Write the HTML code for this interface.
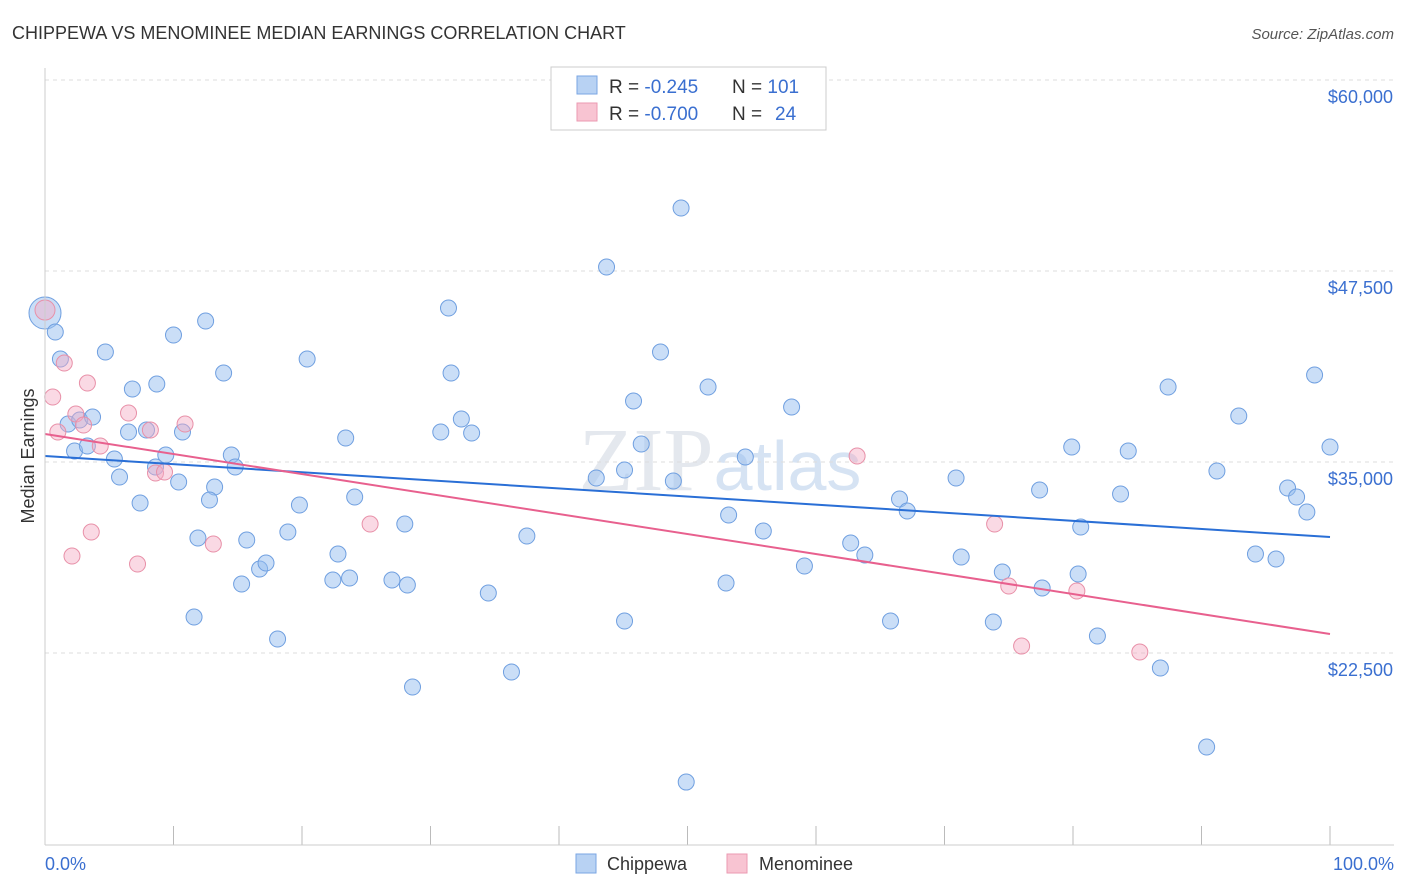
<!DOCTYPE html>
<html><head><meta charset="utf-8"><style>
body{margin:0;background:#fff;font-family:"Liberation Sans",sans-serif}
svg{display:block}
</style></head><body>
<svg width="1406" height="892" id="c">
<text x="12" y="39" font-size="18" fill="#333">CHIPPEWA VS MENOMINEE MEDIAN EARNINGS CORRELATION CHART</text>
<text x="1394" y="39" font-size="15" fill="#555" text-anchor="end" font-style="italic">Source: ZipAtlas.com</text>
<text x="720" y="490" font-size="90" fill="#e4e8ee" text-anchor="middle" font-family="Liberation Serif">ZIP<tspan fill="#d6e3f3" font-family="Liberation Sans" font-size="70">atlas</tspan></text>
<text x="34" y="456" font-size="18" fill="#333" text-anchor="middle" transform="rotate(-90 34 456)">Median Earnings</text>
<g id="grid"></g><g id="pts"></g><g id="lines"></g>
<line x1="45" y1="845" x2="1394" y2="845" stroke="#ccc"/>
<line x1="45" y1="68" x2="45" y2="845" stroke="#ccc"/>
<text x="45" y="870" font-size="18" fill="#3a6fd0">0.0%</text>
<text x="1394" y="870" font-size="18" fill="#3a6fd0" text-anchor="end">100.0%</text>
<g>
<rect x="551" y="67" width="275" height="63" fill="#fff" stroke="#ccc"/>
<rect x="577" y="76" width="20" height="18" fill="#b8d2f3" stroke="#7aa6e3"/>
<rect x="577" y="103" width="20" height="18" fill="#f8c4d2" stroke="#eb9ab2"/>
<text x="609" y="93" font-size="19" fill="#333">R = <tspan fill="#3a6fd0">-0.245</tspan><tspan x="732">N = </tspan><tspan fill="#3a6fd0">101</tspan></text>
<text x="609" y="120" font-size="19" fill="#333">R = <tspan fill="#3a6fd0">-0.700</tspan><tspan x="732">N = </tspan><tspan fill="#3a6fd0" x="775">24</tspan></text>
</g>
<g>
<rect x="576" y="854" width="20" height="19" fill="#b8d2f3" stroke="#7aa6e3"/>
<text x="607" y="870" font-size="18" fill="#333">Chippewa</text>
<rect x="727" y="854" width="20" height="19" fill="#f8c4d2" stroke="#eb9ab2"/>
<text x="759" y="870" font-size="18" fill="#333">Menominee</text>
</g>
</svg>
<script>
const yTicks=[60000,47500,35000,22500];
const yTickLabels=["$60,000","$47,500","$35,000","$22,500"];
const xTicks=[0,10,20,30,40,50,60,70,80,90,100];
const blueX=[0,0.8,1.2,4.7,1.8,2.7,3.7,2.3,3.3,5.4,5.8,6.5,6.8,7.4,8.7,7.9,8.6,9.4,10.0,10.7,10.4,12.5,13.9,13.2,12.8,11.9,11.6,14.5,14.8,15.7,15.3,16.7,17.2,18.1,18.9,19.8,20.4,23.4,24.1,22.8,22.4,23.7,27.0,28.0,28.2,28.6,31.4,31.6,30.8,32.4,33.2,34.5,36.3,37.5,42.9,43.7,45.1,45.1,45.8,46.4,47.9,48.9,49.5,49.9,51.6,53.2,53.0,54.5,55.9,58.1,59.1,62.7,63.8,65.8,66.5,67.1,70.9,71.3,73.8,74.5,77.4,77.6,79.9,80.6,80.4,81.9,83.7,84.3,86.8,87.4,90.4,91.2,92.9,94.2,95.8,96.7,97.4,98.2,98.8,100];
const blueY=[44750,43507,41739,42198,37485,37747,37943,35718,36045,35194,34016,36962,39776,32315,40103,37092,34671,35456,43310,36962,33689,44227,40823,33362,32511,30024,24853,35456,34671,29893,27013,27995,28388,23413,30417,32184,41739,36569,32707,28977,27275,27406,27275,30940,26948,20272,45077,40823,36962,37812,36896,26424,21254,30155,33951,47761,34474,24592,38991,36176,42198,33755,51622,14054,39907,31529,27079,35325,30482,38598,28191,29697,28911,24592,32576,31791,33951,28780,24526,27799,33165,26751,35980,30744,27668,23610,32904,35718,21515,39907,16345,34409,38009,28977,28649,33296,32707,31726,40692,35980];
const pinkX=[0,0.6,1.0,1.5,2.1,2.4,3.0,3.3,3.6,4.3,6.5,7.2,8.2,8.6,9.3,10.9,13.1,25.3,63.2,73.9,75.0,76.0,80.3,85.2];
const pinkY=[44946,39252,36962,41478,28846,38140,37420,40169,30417,36045,38205,28322,37092,34278,34343,37485,29631,30940,35391,30940,26882,22955,26555,22563];
const blueTrend=[35391,30089];
const pinkTrend=[36830,23741];
const NS="http://www.w3.org/2000/svg";
function sx(v){return 45+v*12.85;}
function sy(v){return 80+(60000-v)/12500*191;}
function mk(tag,attrs,parent){const e=document.createElementNS(NS,tag);for(const k in attrs)e.setAttribute(k,attrs[k]);document.getElementById(parent).appendChild(e);return e;}
yTicks.forEach((t,i)=>{
  const l=mk('line',{x1:45,x2:1394,y1:sy(t),y2:sy(t),stroke:'#ddd','stroke-dasharray':'4,4'},'grid');
  
  
  const tx=mk('text',{x:1393,y:sy(t)+23,'font-size':18,fill:'#3a6fd0','text-anchor':'end'},'grid');
  tx.textContent=yTickLabels[i];
  
  
});
xTicks.forEach(t=>{
  const l=mk('line',{x1:sx(t),x2:sx(t),y1:826,y2:845,stroke:'#bbb'},'grid');
  
  
});
blueX.forEach((x,i)=>{
  const c=mk('circle',{cx:sx(x),cy:sy(blueY[i]),r:i===0?16:8,fill:'rgba(150,190,240,0.5)',stroke:'#6f9fe0','stroke-width':1},'pts');
  
  
});
pinkX.forEach((x,i)=>{
  const c=mk('circle',{cx:sx(x),cy:sy(pinkY[i]),r:i===0?10:8,fill:'rgba(245,170,195,0.45)',stroke:'#e890a8','stroke-width':1},'pts');
  
  
});
const bl=mk('line',{x1:sx(0),y1:sy(blueTrend[0]),x2:sx(100),y2:sy(blueTrend[1]),stroke:'#2a6fd6','stroke-width':2},'lines');


const pl=mk('line',{x1:sx(0),y1:sy(pinkTrend[0]),x2:sx(100),y2:sy(pinkTrend[1]),stroke:'#e8608e','stroke-width':2},'lines');


</script>
</body></html>
